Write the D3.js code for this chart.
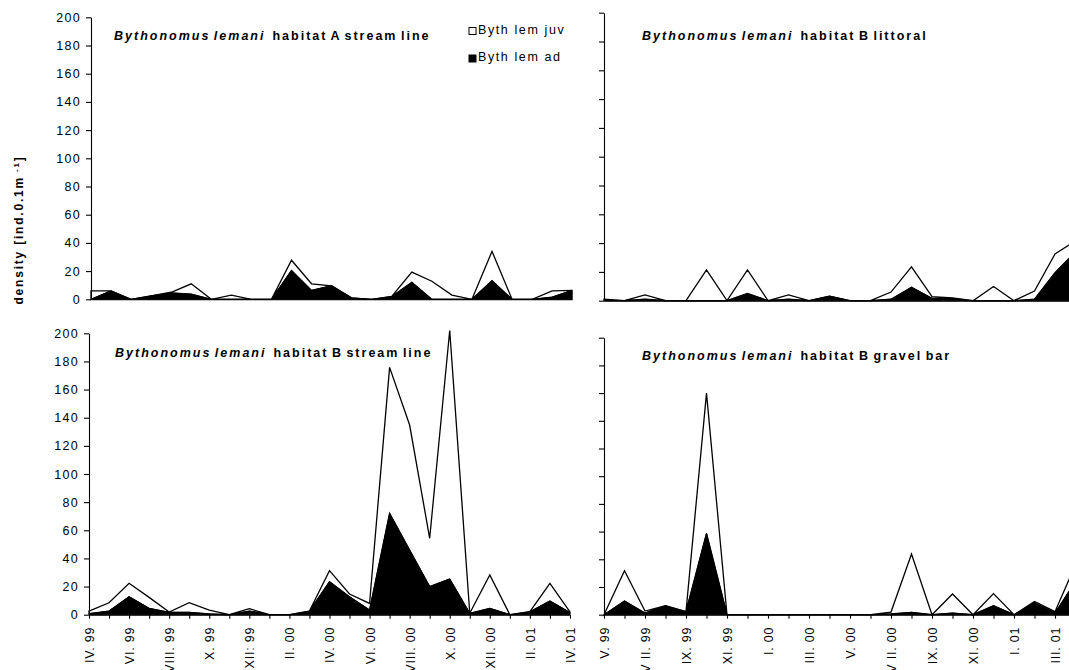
<!DOCTYPE html>
<html>
<head>
<meta charset="utf-8">
<script src="https://cdn.jsdelivr.net/npm/d3@7"></script>
<style>
  body { margin: 0; background: #fff; }
  svg { display: block; font-family: "Liberation Sans", Arial, sans-serif; }
</style>
</head>
<body>
<svg id="chart" width="1069" height="670"></svg>
<script>
// months sampled in habitat A / B stream line (IV.99 - IV.01)
const monthsStream = ['IV. 99', 'V. 99', 'VI. 99', 'VII. 99', 'VIII. 99', 'IX. 99', 'X. 99', 'XI. 99', 'XII: 99',
    'I. 00', 'II. 00', 'III. 00', 'IV. 00', 'V. 00', 'VI. 00', 'VII. 00', 'VIII. 00', 'IX. 00', 'X. 00',
    'XI. 00', 'XII. 00', 'I. 01', 'II. 01', 'III. 01', 'IV. 01'];
// months sampled in habitat B littoral / gravel bar (V.99 - IV.01)
const monthsBank = ['V. 99', 'VI. 99', 'V II. 99', 'VIII. 99', 'IX. 99', 'X. 99', 'XI. 99', 'XII. 99',
    'I. 00', 'II. 00', 'III. 00', 'IV. 00', 'V. 00', 'VI. 00', 'V II. 00', 'VIII. 00', 'IX. 00', 'X. 00',
    'XI. 00', 'XII. 00', 'I. 01', 'II. 01', 'III. 01', 'IV. 01'];

const yTicks = [0, 20, 40, 60, 80, 100, 120, 140, 160, 180, 200];

// adults (black) and juveniles (white, stacked on top)
const streamA_ad  = [0, 6, 0, 2.5, 4.5, 3.6, 0, 0, 0, 0, 20.5, 6.3, 9.6, 1, 0, 2, 12, 0, 0, 0, 13.2, 0, 0, 1.5, 6.4];
const streamA_juv = [6, 0, 0, 0, 0.5, 7.4, 0, 3, 0, 0, 7.2, 4.7, 0, 0, 0, 0, 7.3, 12.8, 3, 0, 20.8, 0, 0, 4.5, 0];

const littoral_ad  = [0.5, 0, 1, 0, 0, 0, 0, 5, 0, 1, 0, 3.2, 0, 0, 1, 9.3, 1.6, 1.6, 0, 0, 0, 1, 19.4, 34];
const littoral_juv = [0.5, 0, 3, 0, 0, 21.4, 0, 16.4, 0, 3, 0, 0, 0, 0, 5, 14.2, 1.2, 0.4, 0, 9.8, 0, 5.7, 13, 7.6];

const streamB_ad  = [0.7, 2.6, 12.8, 4.5, 1.7, 1.7, 0.5, 0, 2.6, 0, 0, 2.6, 23.5, 12.8, 3.3, 72, 46, 20, 25.4, 1, 4.5, 0, 2.1, 9.7, 1.5];
const streamB_juv = [1.9, 5.9, 9.5, 7.8, 0.2, 6.8, 2.8, 0, 1.7, 0, 0, 0, 7.8, 1.9, 4.7, 103.8, 88.8, 34.3, 176.6, 0, 23.7, 0, 0, 12.6, 0.5];

const gravel_ad  = [0, 9.9, 1.2, 6.5, 2.2, 58.7, 0, 0, 0, 0, 0, 0, 0, 0, 0.5, 1.7, 0, 1.2, 0, 6.5, 0, 8.4, 1.2, 24];
const gravel_juv = [0, 21.9, 1.4, 0, 0, 101.3, 0, 0, 0, 0, 0, 0, 0, 0, 1.4, 42.1, 0, 13.8, 0, 8.7, 0, 1.2, 1, 12];

const svg = d3.select('#chart');

// panel layout (pixels)
const panels = [
    { months: monthsStream, ad: streamA_ad, juv: streamA_juv, title: 'habitat A stream line',
      x0: 91, dx: 20.05, yBase: 299.3, yTop: 17.3, yLabels: true, xLabels: false, titleX: 114, titleY: 40 },
    { months: monthsBank, ad: littoral_ad, juv: littoral_juv, title: 'habitat B littoral',
      x0: 604, dx: 20.5, yBase: 300.7, yTop: 12.7, yLabels: false, xLabels: false, titleX: 642, titleY: 39.5 },
    { months: monthsStream, ad: streamB_ad, juv: streamB_juv, title: 'habitat B stream line',
      x0: 89, dx: 20.04, yBase: 614.7, yTop: 333.3, yLabels: true, xLabels: true, titleX: 115, titleY: 356.5 },
    { months: monthsBank, ad: gravel_ad, juv: gravel_juv, title: 'habitat B gravel bar',
      x0: 604, dx: 20.5, yBase: 614.7, yTop: 337.7, yLabels: false, xLabels: true, titleX: 642, titleY: 360 }
];

function drawPanel(p) {
    const g = svg.append('g');

    const x = d3.scalePoint()
        .domain(p.months)
        .range([p.x0, p.x0 + (p.months.length - 1) * p.dx]);
    const y = d3.scaleLinear()
        .domain([0, 200])
        .range([p.yBase, p.yTop]);

    const rows = p.months.map((m, i) => ({ month: m, ad: p.ad[i], juv: p.juv[i] }));
    const series = d3.stack().keys(['ad', 'juv'])(rows);

    const area = d3.area()
        .x(d => x(d.data.month))
        .y0(d => y(d[0]))
        .y1(d => y(d[1]));

    // juveniles: white area with black outline
    g.append('path')
        .datum(series[1])
        .attr('d', area)
        .attr('fill', '#fff')
        .attr('stroke', '#000')
        .attr('stroke-width', 1.3);

    // adults: black area
    g.append('path')
        .datum(series[0])
        .attr('d', area)
        .attr('fill', '#000')
        .attr('stroke', '#000')
        .attr('stroke-width', 1);

    // y axis
    const yAxis = d3.axisLeft(y)
        .tickValues(yTicks)
        .tickSize(5)
        .tickSizeOuter(0)
        .tickPadding(5)
        .tickFormat(p.yLabels ? d3.format('d') : '');
    const yg = g.append('g')
        .attr('transform', `translate(${p.x0},0)`)
        .call(yAxis);
    yg.selectAll('text')
        .style('font-family', '"Liberation Sans", Arial, sans-serif')
        .style('font-size', '12.5px')
        .style('letter-spacing', '1.3px')
        .attr('fill', '#000');

    // x axis
    const xAxis = d3.axisBottom(x)
        .tickSize(p.xLabels ? 4 : 0)
        .tickSizeOuter(0)
        .tickFormat((d, i) => (p.xLabels && i % 2 === 0) ? d : '');
    const xg = g.append('g')
        .attr('transform', `translate(0,${p.yBase})`)
        .call(xAxis);
    xg.selectAll('text')
        .attr('transform', 'rotate(-90)')
        .attr('x', -12)
        .attr('y', 0)
        .attr('dy', '0.36em')
        .style('text-anchor', 'end')
        .style('font-family', '"Liberation Sans", Arial, sans-serif')
        .style('font-size', '12.5px')
        .style('letter-spacing', '0.8px')
        .attr('fill', '#000');
    g.selectAll('.domain, .tick line').attr('stroke', '#000').attr('stroke-width', 1.1);

    // panel title
    const t = g.append('text')
        .attr('x', p.titleX)
        .attr('y', p.titleY)
        .style('font-weight', 'bold')
        .style('font-size', '12.5px')
        .style('letter-spacing', '2px')
        .style('word-spacing', '-2px');
    t.append('tspan').style('font-style', 'italic').text('Bythonomus lemani');
    t.append('tspan').attr('dx', 7).text(p.title);
}

panels.forEach(drawPanel);

// legend
const legendItems = [
    { label: 'Byth lem juv', fill: '#fff', y: 31 },
    { label: 'Byth lem ad', fill: '#000', y: 58.5 }
];
const legend = svg.append('g').attr('class', 'legend');
legend.selectAll('rect')
    .data(legendItems)
    .enter()
    .append('rect')
    .attr('x', 469)
    .attr('y', d => d.y - 3.5)
    .attr('width', 7)
    .attr('height', 7)
    .attr('fill', d => d.fill)
    .attr('stroke', '#000')
    .attr('stroke-width', 1);
legend.selectAll('text')
    .data(legendItems)
    .enter()
    .append('text')
    .attr('x', 478)
    .attr('y', d => d.y + 2.5)
    .style('font-size', '12.5px')
    .style('letter-spacing', '1.6px')
    .text(d => d.label);

// y axis title
const yTitle = svg.append('text')
    .attr('transform', 'translate(23,230) rotate(-90)')
    .attr('text-anchor', 'middle')
    .style('font-weight', 'bold')
    .style('font-size', '12px')
    .style('letter-spacing', '1.8px');
yTitle.append('tspan').text('density [ind.0.1m');
yTitle.append('tspan').attr('dy', -4).style('font-size', '8px').text(' -1');
yTitle.append('tspan').attr('dy', 4).text(']');
</script>
</body>
</html>
